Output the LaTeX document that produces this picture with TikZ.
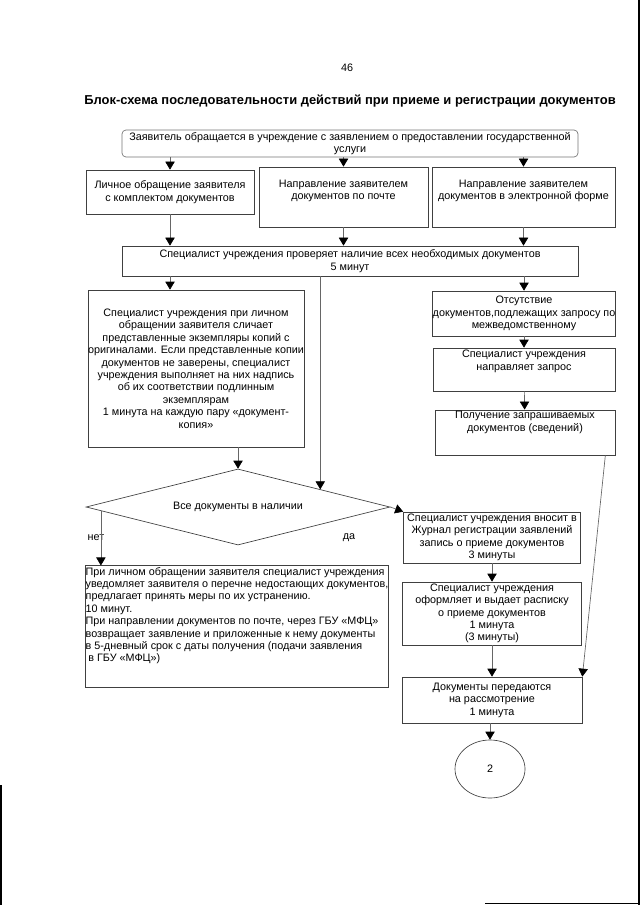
\documentclass[tikz,border=0pt]{standalone}
\usepackage{fontspec}
\setmainfont{Liberation Sans}
\usetikzlibrary{arrows.meta}
\usetikzlibrary{positioning}
\usetikzlibrary{shapes.geometric}
\usetikzlibrary{calc}

\begin{document}
\begin{tikzpicture}[x=0.75pt, y=-0.75pt,
    txt/.style={font=\fontsize{8.1}{9.3}\selectfont},
    box/.style={txt, draw=black!75, line width=0.5pt, align=center, inner xsep=1pt, inner ysep=1pt},
    arr/.style={draw=black!60, line width=0.5pt, -{Triangle[length=6pt,width=7pt,color=black]}}]

\useasboundingbox (0,0) rectangle (640,905);

\node[txt] at (347, 68) (PAGE) {46};
\node[font=\fontsize{9.7}{11}\selectfont\bfseries] at (350, 101) (TITLE)
    {Блок-схема последовательности действий при приеме и регистрации документов};

\node[box, draw=black!55, rounded corners=3pt, minimum width=342pt, minimum height=20.25pt] at (350, 143.5) (APP)
    {Заявитель обращается в учреждение с заявлением о предоставлении государственной\\услуги};

\node[box, minimum width=126pt, minimum height=33pt] at (170, 192) (PERS)
    {Личное обращение заявителя\\с комплектом документов};
\node[box, minimum width=126.75pt, minimum height=45pt, text depth=11pt] at (343.5, 197) (MAIL)
    {Направление заявителем\\документов по почте};
\node[box, minimum width=137.25pt, minimum height=45pt, text depth=11pt] at (523.5, 197) (ELEC)
    {Направление заявителем\\документов в электронной форме};

\node[box, minimum width=342pt, minimum height=22.5pt] at (350, 261) (CHECK)
    {Специалист учреждения проверяет наличие всех необходимых документов\\5 минут};

\node[box, inner xsep=0pt, minimum width=162pt, minimum height=117.75pt] at (196, 368.5) (COMP)
    {Специалист учреждения при личном\\обращении заявителя сличает\\представленные экземпляры копий с\\оригиналами. Если представленные копии\\документов не заверены, специалист\\учреждения выполняет на них надпись\\об их соответствии подлинным\\экземплярам\\1 минута на каждую пару «документ-\\копия»};

\node[box, inner xsep=0pt, minimum width=135pt, minimum height=33.75pt] at (524, 313.5) (ABS)
    {Отсутствие\\документов,подлежащих запросу по\\межведомственному};
\node[box, minimum width=136.5pt, minimum height=32.25pt, text depth=14pt] at (524, 369.5) (REQ)
    {Специалист учреждения\\направляет запрос};
\node[box, minimum width=135pt, minimum height=33.75pt, text depth=17pt] at (525, 432.5) (RECV)
    {Получение запрашиваемых\\документов (сведений)};

\node[txt, draw=black!75, line width=0.5pt, diamond, aspect=4, inner sep=0pt,
    minimum width=228pt, minimum height=57pt] at (238, 507) (DEC) {Все документы в наличии};
\node[txt] at (96, 538) (NO) {нет};
\node[txt] at (349, 538) (YES) {да};

\node[box, align=left, inner xsep=0pt, minimum width=226.5pt, minimum height=89.25pt, text depth=18pt] at (237, 626.5) (MISS)
    {При личном обращении заявителя специалист учреждения\\уведомляет заявителя о перечне недостающих документов,\\предлагает принять меры по их устранению.\\10 минут.\\При направлении документов по почте, через ГБУ «МФЦ»\\возвращает заявление и приложенные к нему документы\\в 5-дневный срок с даты получения (подачи заявления\\\hspace{2pt}в ГБУ «МФЦ»)};

\node[box, inner ysep=0pt, minimum width=132.75pt, minimum height=38.25pt] at (492, 537.5) (REG)
    {Специалист учреждения вносит в\\Журнал регистрации заявлений\\запись о приеме документов\\3 минуты};
\node[box, inner ysep=0pt, minimum width=134.25pt, minimum height=47.25pt] at (492, 613.5) (RCPT)
    {Специалист учреждения\\оформляет и выдает расписку\\о приеме документов\\1 минута\\(3 минуты)};
\node[box, minimum width=135pt, minimum height=34.5pt] at (492, 700) (PASS)
    {Документы передаются\\на рассмотрение\\1 минута};
\node[txt, draw=black!75, line width=0.5pt, ellipse, minimum width=52.5pt, minimum height=43.5pt] at (490, 769) (END2) {2};

\draw[arr] (APP.south -| PERS) -- (PERS);
\draw[arr] (APP.south -| MAIL) -- (MAIL);
\draw[arr] (APP.south -| ELEC) -- (ELEC);
\draw[arr] (PERS) -- (CHECK.north -| PERS);
\draw[arr] (MAIL) -- (CHECK.north -| MAIL);
\draw[arr] (ELEC) -- (CHECK.north -| ELEC);

\draw[arr] (CHECK.south -| PERS) -- (COMP.north -| PERS);
\draw[arr] (CHECK.south -| ABS) -- (ABS);
\draw[arr] (ABS) -- (REQ);
\draw[arr] (REQ) -- (RECV);

\coordinate (DIN) at ($(DEC.north)!0.54!(DEC.east)$);
\coordinate (DNO) at ($(DEC.west)!0.1!(DEC.south)$);
\draw[arr] (COMP.south -| DEC) -- (DEC);
\draw[arr] (CHECK.south -| DIN) -- (DIN);
\draw[arr] (DNO) -- (DNO |- MISS.north);
\draw[arr] (DEC.east) -- (REG.north west);

\draw[arr] (REG) -- (RCPT);
\draw[arr] (RCPT) -- (PASS);
\draw[arr] ([xshift=-7.5pt]RECV.south east) -- (PASS.north east);
\draw[arr] (PASS.south -| END2) -- (END2);

\draw[line width=1.5pt] (638.5, 0) -- (638.5, 905);
\draw[line width=1pt] (1, 785) -- (1, 905);
\draw[line width=0.8pt] (485, 903.5) -- (640, 903.5);
\end{tikzpicture}
\end{document}
